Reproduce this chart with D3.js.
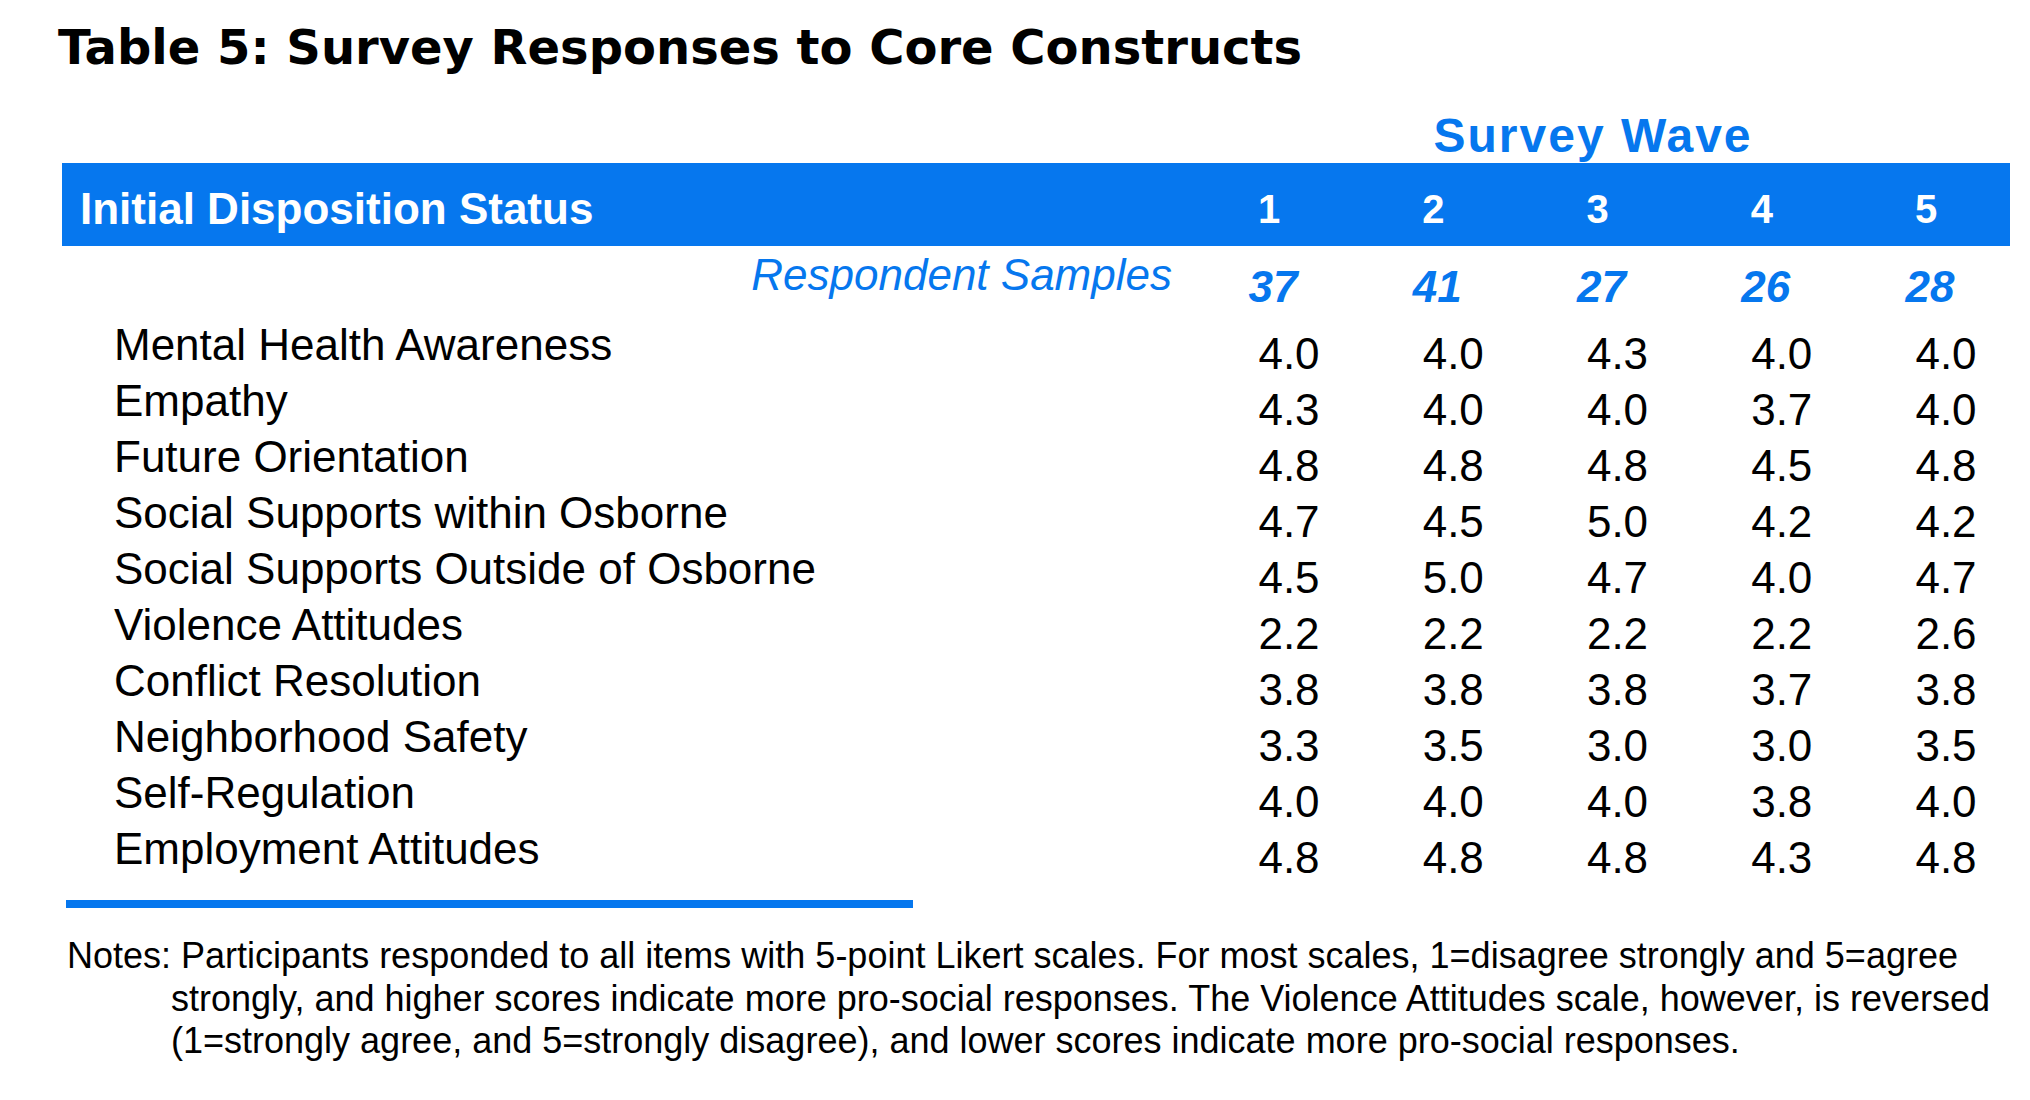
<!DOCTYPE html>
<html>
<head>
<meta charset="utf-8">
<script src="https://cdn.jsdelivr.net/npm/d3@7"></script>
<style>
  body { margin: 0; background: #fff; }
  svg { display: block; }
  text { font-family: "Liberation Sans", Arial, sans-serif; }
</style>
</head>
<body>
<svg id="chart" width="2030" height="1100"></svg>
<script>
const title = 'Table 5: Survey Responses to Core Constructs';
const waves = ['1', '2', '3', '4', '5'];
const samples = [37, 41, 27, 26, 28];
const constructs = [
  'Mental Health Awareness',
  'Empathy',
  'Future Orientation',
  'Social Supports within Osborne',
  'Social Supports Outside of Osborne',
  'Violence Attitudes',
  'Conflict Resolution',
  'Neighborhood Safety',
  'Self-Regulation',
  'Employment Attitudes'
];
const wave1 = [4.0, 4.3, 4.8, 4.7, 4.5, 2.2, 3.8, 3.3, 4.0, 4.8];
const wave2 = [4.0, 4.0, 4.8, 4.5, 5.0, 2.2, 3.8, 3.5, 4.0, 4.8];
const wave3 = [4.3, 4.0, 4.8, 5.0, 4.7, 2.2, 3.8, 3.0, 4.0, 4.8];
const wave4 = [4.0, 3.7, 4.5, 4.2, 4.0, 2.2, 3.7, 3.0, 3.8, 4.3];
const wave5 = [4.0, 4.0, 4.8, 4.2, 4.7, 2.6, 3.8, 3.5, 4.0, 4.8];
const notes = [
  'Notes: Participants responded to all items with 5-point Likert scales. For most scales, 1=disagree strongly and 5=agree',
  'strongly, and higher scores indicate more pro-social responses. The Violence Attitudes scale, however, is reversed',
  '(1=strongly agree, and 5=strongly disagree), and lower scores indicate more pro-social responses.'
];

const series = [wave1, wave2, wave3, wave4, wave5];
const blue = '#0677ee';

const svg = d3.select('#chart');
svg.append('rect').attr('width', 2030).attr('height', 1100).attr('fill', '#fff');

const x = d3.scalePoint().domain(waves).range([1269, 1926]);
const y = d3.scalePoint().domain(d3.range(constructs.length)).range([369, 873]);

// title
svg.append('text')
  .attr('x', 58).attr('y', 64)
  .style('font-family', '"DejaVu Sans", Verdana, sans-serif')
  .style('font-weight', 'bold').style('font-size', '48px')
  .text(title);

// spanner
svg.append('text')
  .attr('x', 1593).attr('y', 152)
  .attr('text-anchor', 'middle')
  .attr('fill', blue)
  .style('font-weight', 'bold').style('font-size', '48px')
  .style('letter-spacing', '2px')
  .text('Survey Wave');

// header band
svg.append('rect')
  .attr('x', 62).attr('y', 163)
  .attr('width', 2010 - 62).attr('height', 83)
  .attr('fill', blue);

svg.append('text')
  .attr('x', 80).attr('y', 224)
  .attr('fill', '#fff')
  .style('font-weight', 'bold').style('font-size', '44px')
  .text('Initial Disposition Status');

svg.append('g').selectAll('text')
  .data(waves)
  .join('text')
  .attr('x', d => x(d))
  .attr('y', 223)
  .attr('text-anchor', 'middle')
  .attr('fill', '#fff')
  .style('font-weight', 'bold').style('font-size', '40px')
  .text(d => d);

// sample sizes
svg.append('text')
  .attr('x', 1172).attr('y', 290)
  .attr('text-anchor', 'end')
  .attr('fill', blue)
  .style('font-style', 'italic').style('font-size', '44px')
  .text('Respondent Samples');

svg.append('g').selectAll('text')
  .data(samples)
  .join('text')
  .attr('x', (d, i) => x(waves[i]) + 4)
  .attr('y', 302)
  .attr('text-anchor', 'middle')
  .attr('fill', blue)
  .style('font-weight', 'bold').style('font-style', 'italic').style('font-size', '44px')
  .text(d => d);

// row labels
svg.append('g').selectAll('text')
  .data(constructs)
  .join('text')
  .attr('x', 114)
  .attr('y', (d, i) => y(i) - 9)
  .style('font-size', '44px')
  .text(d => d);

// cells
const cells = series.flatMap((s, j) => s.map((v, i) => ({ wave: waves[j], row: i, v })));
svg.append('g').selectAll('text')
  .data(cells)
  .join('text')
  .attr('x', d => x(d.wave) + 20)
  .attr('y', d => y(d.row))
  .attr('text-anchor', 'middle')
  .style('font-size', '44px')
  .text(d => d3.format('.1f')(d.v));

// bottom rule
svg.append('rect')
  .attr('x', 66).attr('y', 900)
  .attr('width', 913 - 66).attr('height', 8)
  .attr('fill', blue);

// notes
svg.append('g').selectAll('text')
  .data(notes)
  .join('text')
  .attr('x', (d, i) => i === 0 ? 67 : 171)
  .attr('y', (d, i) => 968 + i * 42.5)
  .style('font-size', '36px')
  .text(d => d);
</script>
</body>
</html>
